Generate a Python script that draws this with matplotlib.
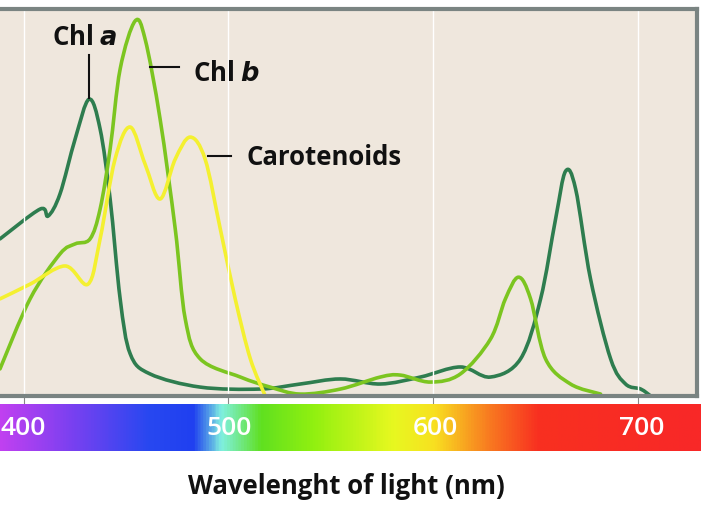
import matplotlib.pyplot as plt
import numpy as np
from matplotlib.colors import LinearSegmentedColormap
from matplotlib.path import Path
from matplotlib.patches import PathPatch

# absorption spectra (wavelength nm, relative absorbance)
chla_nm = [388.5, 408.1, 412, 417.8, 425.2, 432, 437.4, 442.3, 447.2, 452.1, 461.8, 486.3, 515.6,
           535.2, 554.8, 574.3, 593.9, 613.4, 628.1, 642.8, 652.6, 659.9, 664.8, 669.7, 677, 686.8,
           694.1, 701.5, 706.4]
chla_abs = [0.406, 0.483, 0.465, 0.522, 0.664, 0.767, 0.690, 0.509, 0.251, 0.109, 0.057, 0.023, 0.018,
            0.031, 0.044, 0.031, 0.049, 0.075, 0.049, 0.096, 0.251, 0.457, 0.581, 0.535, 0.302, 0.096,
            0.031, 0.018, 0.0]
chlb_nm = [388.5, 403.2, 417.8, 425.2, 432.5, 437.4, 442.3, 447.2, 454.5, 459.4, 466.7, 474.1, 479,
           486.3, 505.9, 520.5, 535.2, 554.8, 574.3, 584.1, 598.8, 613.4, 628.1, 635.4, 641.8, 647.7,
           655, 667.2, 681.9]
chlb_abs = [0.070, 0.251, 0.367, 0.393, 0.406, 0.483, 0.638, 0.845, 0.969, 0.922, 0.716, 0.432, 0.199,
            0.096, 0.049, 0.023, 0.005, 0.018, 0.049, 0.054, 0.036, 0.057, 0.147, 0.251, 0.307, 0.251,
            0.096, 0.031, 0.005]
car_nm = [388.5, 403.2, 420.3, 431.5, 437.4, 444.7, 452.1, 459.4, 466.7, 474.1, 481.4, 488.7, 496.1,
          503.4, 510.8, 518.1]
car_abs = [0.251, 0.289, 0.336, 0.289, 0.406, 0.612, 0.695, 0.599, 0.509, 0.612, 0.669, 0.612, 0.432,
           0.251, 0.096, 0.0]

ticks = [400, 500, 600, 700]
spec_nm = [388.5, 420, 460, 482, 496, 515, 540, 580, 600, 620, 650, 729]
spec_col = ['#c040f0', '#8040f0', '#2848f0', '#2040f0', '#80f0e0', '#60e020', '#90f010', '#e8f820',
            '#f8e020', '#f89020', '#f83020', '#f82828']


def smooth_curve(ax, xs, ys, color):
    # Catmull-Rom through the read points, drawn as cubic bezier path
    p = np.column_stack([xs, ys])
    p = np.vstack([p[0], p, p[-1]])
    verts, codes = [tuple(p[1])], [Path.MOVETO]
    for i in range(1, len(p) - 2):
        c1 = p[i] + (p[i + 1] - p[i - 1]) / 6
        c2 = p[i + 1] - (p[i + 2] - p[i]) / 6
        verts += [tuple(c1), tuple(c2), tuple(p[i + 1])]
        codes += [Path.CURVE4] * 3
    ax.add_patch(PathPatch(Path(verts, codes), fill=False, edgecolor=color, lw=2.6,
                           capstyle='round', joinstyle='round'))


x0, x1 = 388.5, 729
fig = plt.figure(figsize=(7.06, 5.1), dpi=100)
ax = fig.add_axes([0, 1 - 397 / 510, 697 / 706, 387 / 510])
ax.set_facecolor('#efe7dd')
for t in ticks:
    ax.axvline(t, color='white', lw=1)
smooth_curve(ax, chla_nm, chla_abs, '#2e7d4f')
smooth_curve(ax, chlb_nm, chlb_abs, '#7cc520')
smooth_curve(ax, car_nm, car_abs, '#f4f030')
ax.set_xlim(x0, x1)
ax.set_ylim(0, 1)
ax.set_xticks(ticks)
ax.set_yticks([])
ax.tick_params(axis='x', length=7, color='#888888', labelbottom=False)
ax.spines['left'].set_visible(False)
for s in ['top', 'right', 'bottom']:
    ax.spines[s].set_color('#7a8482')
    ax.spines[s].set_linewidth(3)

fnt = dict(fontfamily='Open Sans', fontweight='bold', fontsize=18.5, color='#111111')
ax.text(430, 0.93, 'Chl $\\boldsymbol{a}$', ha='center', va='center', **fnt)
ax.plot([432, 432], [0.88, 0.77], color='#111111', lw=1.5)
ax.text(483, 0.835, 'Chl $\\boldsymbol{b}$', ha='left', va='center', **fnt)
ax.plot([462, 476], [0.85, 0.85], color='#111111', lw=1.5)
ax.text(509, 0.62, 'Carotenoids', ha='left', va='center', **fnt)
ax.plot([490, 501.5], [0.62, 0.62], color='#111111', lw=1.5)

bar = fig.add_axes([0, 1 - 452 / 510, 701 / 706, 47 / 510])
pos = [(v - x0) / (x1 - x0) for v in spec_nm]
cmap = LinearSegmentedColormap.from_list('spec', list(zip(pos, spec_col)))
bar.imshow(np.linspace(0, 1, 500)[None, :], aspect='auto', cmap=cmap, extent=[x0, x1, 0, 1])
bar.set_xlim(x0, x1)
bar.axis('off')
for t in ticks:
    bar.text(t, 0.5, str(t), ha='center', va='center', color='white',
             fontfamily='Open Sans', fontweight='semibold', fontsize=19)

fig.text(0.49, 1 - 487 / 510, 'Wavelenght of light (nm)', ha='center', va='center', **fnt)
fig.savefig('out.png', dpi=100)
